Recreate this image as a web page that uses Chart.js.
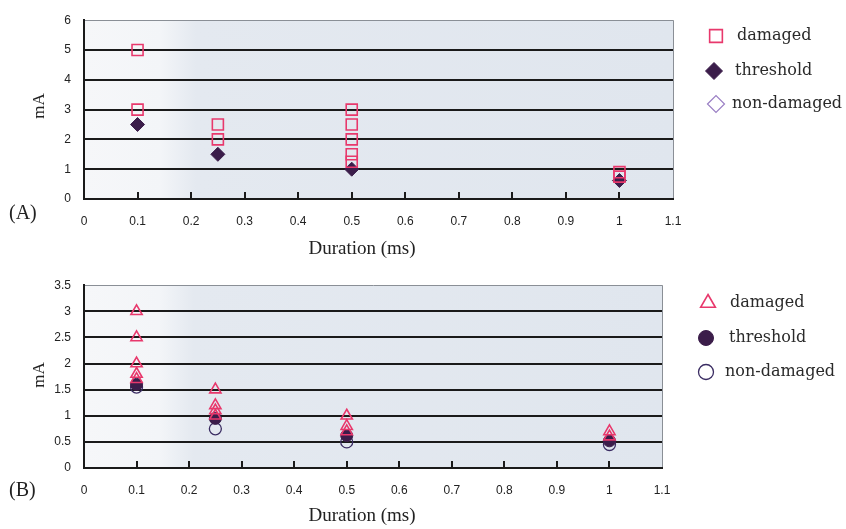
<!DOCTYPE html>
<html>
<head>
<meta charset="utf-8">
<script src="https://cdn.jsdelivr.net/npm/chart.js@4/dist/chart.umd.min.js"></script>
<style>
  html, body { margin: 0; padding: 0; background: #fff; }
  #wrap { position: relative; width: 846px; height: 529px; overflow: hidden; }
  .box { position: absolute; left: 0; width: 846px; }
  #boxA { top: 0; height: 265px; }
  #boxB { top: 265px; height: 264px; }
</style>
</head>
<body>
<div id="wrap">
  <div class="box" id="boxA"><canvas id="chartA" width="846" height="265"></canvas></div>
  <div class="box" id="boxB"><canvas id="chartB" width="846" height="264"></canvas></div>
</div>
<script>
// Panel A values
const aDamagedX = [0.1, 0.1, 0.25, 0.25, 0.5, 0.5, 0.5, 0.5, 0.5, 1, 1];
const aDamagedY = [5, 3, 2.5, 2, 3, 2.5, 2, 1.5, 1.25, 0.9, 0.75];
const aThresholdX = [0.1, 0.25, 0.5, 1];
const aThresholdY = [2.5, 1.5, 1.0, 0.62];
const aNonDamagedX = [];
const aNonDamagedY = [];

// Panel B values
const bDamagedX = [0.1, 0.1, 0.1, 0.1, 0.1, 0.25, 0.25, 0.25, 0.25, 0.5, 0.5, 0.5, 1, 1];
const bDamagedY = [3, 2.5, 2, 1.8, 1.7, 1.5, 1.2, 1.1, 1.0, 1.0, 0.8, 0.7, 0.7, 0.6];
const bThresholdX = [0.1, 0.25, 0.5, 1];
const bThresholdY = [1.6, 0.95, 0.62, 0.52];
const bNonDamagedX = [0.1, 0.25, 0.5, 1];
const bNonDamagedY = [1.55, 0.75, 0.5, 0.45];

// Ticks
const xTickValues = [0, 0.1, 0.2, 0.3, 0.4, 0.5, 0.6, 0.7, 0.8, 0.9, 1, 1.1];
const xTickLabels = ['0', '0.1', '0.2', '0.3', '0.4', '0.5', '0.6', '0.7', '0.8', '0.9', '1', '1.1'];
const aYTickValues = [0, 1, 2, 3, 4, 5, 6];
const aYTickLabels = ['0', '1', '2', '3', '4', '5', '6'];
const bYTickValues = [0, 0.5, 1, 1.5, 2, 2.5, 3, 3.5];
const bYTickLabels = ['0', '0.5', '1', '1.5', '2', '2.5', '3', '3.5'];

const seriesNames = ['damaged', 'threshold', 'non-damaged'];

function toPoints(xs, ys) {
  return xs.map(function (x, i) { return { x: x, y: ys[i] }; });
}

const tickFont = { family: "'Liberation Sans Narrow', 'Liberation Sans', sans-serif", size: 12 };
const serif = "'Liberation Serif', 'DejaVu Serif', serif";
const legendSerif = "'DejaVu Serif', 'Liberation Serif', serif";

// plot background, inward tick marks, titles and legend
const decor = {
  id: 'decor',
  beforeDraw: function (chart) {
    const ctx = chart.ctx;
    const a = chart.chartArea;
    ctx.save();
    ctx.fillStyle = '#fff';
    ctx.fillRect(0, 0, chart.width, chart.height);
    const g = ctx.createLinearGradient(a.left, 0, a.right, 0);
    g.addColorStop(0, '#f6f7f9');
    g.addColorStop(0.13, '#f3f5f8');
    g.addColorStop(0.19, '#e4e9f0');
    g.addColorStop(1, '#e0e6ee');
    ctx.fillStyle = g;
    ctx.fillRect(a.left, a.top, a.right - a.left, a.bottom - a.top);
    ctx.restore();
  },
  afterDraw: function (chart, args, opts) {
    const ctx = chart.ctx;
    const a = chart.chartArea;
    const xs = chart.scales.x;
    ctx.save();
    // inward tick marks on the x axis
    ctx.strokeStyle = '#1a1a1a';
    ctx.lineWidth = 2;
    xs.ticks.forEach(function (t, i) {
      if (i === 0 || i === xs.ticks.length - 1) return;
      const px = Math.round(xs.getPixelForValue(t.value));
      ctx.beginPath();
      ctx.moveTo(px, a.bottom);
      ctx.lineTo(px, a.bottom - 7);
      ctx.stroke();
    });
    // titles
    ctx.fillStyle = '#222';
    ctx.font = '19px ' + serif;
    ctx.textAlign = 'center';
    ctx.textBaseline = 'middle';
    ctx.fillText('Duration (ms)', opts.xTitle[0], opts.xTitle[1]);
    ctx.textAlign = 'left';
    ctx.font = '20px ' + serif;
    ctx.fillText(opts.panel, 9, opts.panelY);
    ctx.save();
    ctx.translate(opts.yTitle[0], opts.yTitle[1]);
    ctx.rotate(-Math.PI / 2);
    ctx.textAlign = 'center';
    ctx.font = '17px ' + serif;
    ctx.fillText('mA', 0, 0);
    ctx.restore();
    // legend
    chart.data.datasets.forEach(function (ds, i) {
      const row = opts.legend[i];
      ctx.save();
      ctx.fillStyle = ds.pointBackgroundColor;
      ctx.strokeStyle = ds.pointBorderColor;
      ctx.lineWidth = ds.pointBorderWidth;
      Chart.helpers.drawPoint(ctx, {
        pointStyle: ds.pointStyle,
        radius: row[3],
        borderWidth: ds.pointBorderWidth,
        rotation: 0
      }, row[0], row[1]);
      ctx.restore();
      ctx.fillStyle = '#2a2a2a';
      ctx.font = '16px ' + legendSerif;
      ctx.textAlign = 'left';
      ctx.textBaseline = 'middle';
      ctx.fillText(ds.label, row[2], row[1]);
    });
    ctx.restore();
  }
};

function makeChart(id, datasets, yMax, yTickValues, yTickLabels, pad, opts) {
  const ctx = document.getElementById(id).getContext('2d');
  return new Chart(ctx, {
    type: 'scatter',
    data: { datasets: datasets },
    plugins: [decor],
    options: {
      responsive: false,
      animation: false,
      events: [],
      layout: { padding: { left: 0, top: pad.top, right: pad.right, bottom: 0 } },
      plugins: {
        legend: { display: false },
        tooltip: { enabled: false },
        decor: opts
      },
      scales: {
        x: {
          type: 'linear',
          min: 0,
          max: 1.1,
          afterFit: function (s) { s.height = pad.xHeight; },
          afterBuildTicks: function (s) { s.ticks = xTickValues.map(function (v) { return { value: v }; }); },
          ticks: {
            autoSkip: false,
            maxRotation: 0,
            padding: 15,
            color: '#222',
            font: tickFont,
            callback: function (v, i) { return xTickLabels[i]; }
          },
          grid: {
            drawTicks: false,
            color: function (c) { return c.index === xTickValues.length - 1 ? '#8a8f96' : 'rgba(0,0,0,0)'; },
            lineWidth: 1
          },
          border: { display: true, color: '#1a1a1a', width: 2 }
        },
        y: {
          type: 'linear',
          min: 0,
          max: yMax,
          afterFit: function (s) { s.width = pad.left; },
          afterBuildTicks: function (s) { s.ticks = yTickValues.map(function (v) { return { value: v }; }); },
          ticks: {
            padding: 13,
            color: '#222',
            font: tickFont,
            callback: function (v, i) { return yTickLabels[i]; }
          },
          grid: {
            drawTicks: false,
            color: function (c) {
              if (c.index === 0) return 'rgba(0,0,0,0)';
              if (c.index === yTickValues.length - 1) return '#8a8f96';
              return '#1a1a1a';
            },
            lineWidth: function (c) { return c.index === yTickValues.length - 1 ? 1 : 2; }
          },
          border: { display: true, color: '#1a1a1a', width: 2 }
        }
      }
    }
  });
}

const pink = '#e8386c';
const dark = '#3b1d4a';

makeChart('chartA', [
  {
    label: seriesNames[0], data: toPoints(aDamagedX, aDamagedY),
    pointStyle: 'rect', pointRadius: 7.8, pointBorderWidth: 1.6,
    pointBorderColor: pink, pointBackgroundColor: 'rgba(0,0,0,0)', showLine: false
  },
  {
    label: seriesNames[1], data: toPoints(aThresholdX, aThresholdY),
    pointStyle: 'rectRot', pointRadius: 7, pointBorderWidth: 1,
    pointBorderColor: dark, pointBackgroundColor: dark, showLine: false
  },
  {
    label: seriesNames[2], data: toPoints(aNonDamagedX, aNonDamagedY),
    pointStyle: 'rectRot', pointRadius: 7, pointBorderWidth: 1.2,
    pointBorderColor: '#9a7fc4', pointBackgroundColor: 'rgba(0,0,0,0)', showLine: false
  }
], 6, aYTickValues, aYTickLabels,
  { top: 12, right: 173, left: 84, xHeight: 66 },
  {
    panel: '(A)', panelY: 214,
    xTitle: [362, 249], yTitle: [40, 106],
    legend: [[716, 36, 737, 9], [714, 71, 735, 8.5], [716, 104, 732, 8.5]]
  });

makeChart('chartB', [
  {
    label: seriesNames[0], data: toPoints(bDamagedX, bDamagedY),
    pointStyle: 'triangle', pointRadius: 6.5, pointBorderWidth: 1.6,
    pointBorderColor: pink, pointBackgroundColor: 'rgba(0,0,0,0)', showLine: false
  },
  {
    label: seriesNames[1], data: toPoints(bThresholdX, bThresholdY),
    pointStyle: 'circle', pointRadius: 6, pointBorderWidth: 1,
    pointBorderColor: dark, pointBackgroundColor: dark, showLine: false
  },
  {
    label: seriesNames[2], data: toPoints(bNonDamagedX, bNonDamagedY),
    pointStyle: 'circle', pointRadius: 6, pointBorderWidth: 1.3,
    pointBorderColor: '#3a2c62', pointBackgroundColor: 'rgba(0,0,0,0)', showLine: false
  }
], 3.5, bYTickValues, bYTickLabels,
  { top: 15, right: 184, left: 84, xHeight: 61 },
  {
    panel: '(B)', panelY: 226,
    xTitle: [362, 251], yTitle: [40, 110],
    legend: [[708, 38, 730, 8.5], [706, 73, 729, 7.5], [706, 107, 725, 7.5]]
  });
</script>
</body>
</html>
